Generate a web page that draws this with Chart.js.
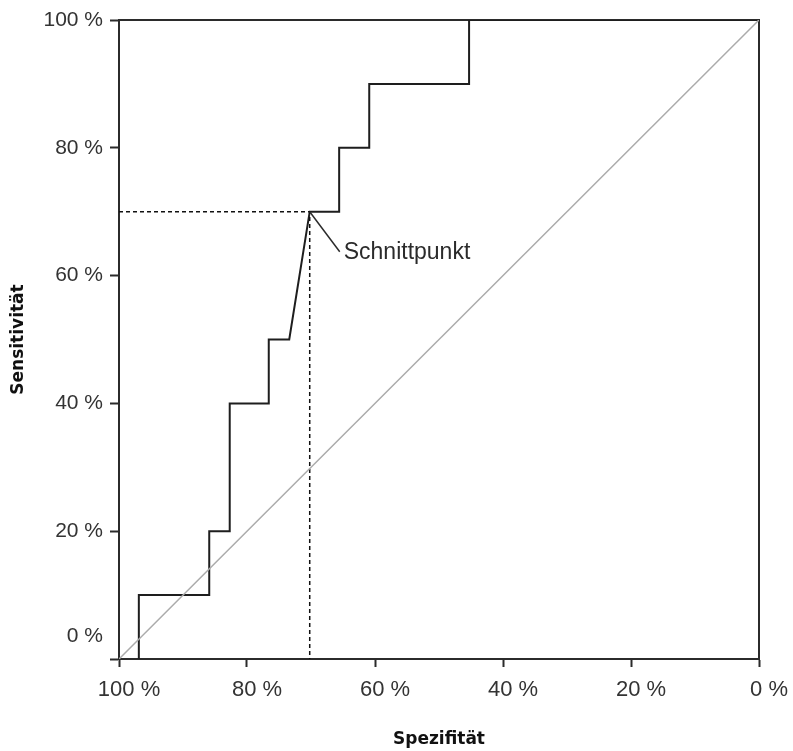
<!DOCTYPE html>
<html>
<head>
<meta charset="utf-8">
<title>ROC-Kurve</title>
<script src="https://cdn.jsdelivr.net/npm/chart.js@4.4.1/dist/chart.umd.min.js"></script>
<style>
  body { margin: 0; background: #fff; }
</style>
</head>
<body>
<canvas id="roc" width="793" height="751"></canvas>
<script>
// ROC curve (percent)
const spezifitaet = [96.9, 96.9, 85.9, 85.9, 82.7, 82.7, 76.6, 76.6, 73.4, 70.2, 65.6, 65.6, 60.9, 60.9, 45.3, 45.3, 0];
const sensitivitaet = [0, 10, 10, 20, 20, 40, 40, 50, 50, 70, 70, 80, 80, 90, 90, 100, 100];
const diagonalX = [100, 0];
const diagonalY = [0, 100];
const schnittX = 70.2;
const schnittY = 70;
const schnittLabel = "Schnittpunkt";
const xTicks = [100, 80, 60, 40, 20, 0];
const yTicks = [0, 20, 40, 60, 80, 100];

const toPoints = (xs, ys) => xs.map((x, i) => ({ x, y: ys[i] }));

// the "0 %" label of the y axis sits a bit above the axis in the original
const Y_ZERO_LABEL_AT = 3.6;
const INK = "#2b2b2b";
const FONT = "'Liberation Sans', Arial, sans-serif";

const frame = {
  id: "frame",
  beforeDatasetsDraw(chart) {
    const { ctx, chartArea: a } = chart;
    ctx.save();
    ctx.strokeStyle = INK;
    ctx.lineWidth = 2;
    ctx.beginPath();
    ctx.moveTo(a.left, a.top);
    ctx.lineTo(a.right, a.top);
    ctx.lineTo(a.right, a.bottom);
    ctx.stroke();
    ctx.restore();
  }
};

const schnittpunkt = {
  id: "schnittpunkt",
  afterDatasetsDraw(chart) {
    const { ctx, scales } = chart;
    const px = scales.x.getPixelForValue(schnittX);
    const py = scales.y.getPixelForValue(schnittY);
    ctx.save();
    ctx.strokeStyle = INK;
    ctx.lineWidth = 1.5;
    ctx.beginPath();
    ctx.moveTo(px, py);
    ctx.lineTo(px + 30, py + 40);
    ctx.stroke();
    ctx.fillStyle = INK;
    ctx.font = "23px " + FONT;
    ctx.textBaseline = "middle";
    ctx.fillText(schnittLabel, px + 34, py + 41);
    ctx.restore();
  }
};

new Chart(document.getElementById("roc"), {
  type: "scatter",
  data: {
    datasets: [
      {
        data: toPoints(diagonalX, diagonalY),
        showLine: true,
        borderColor: "#ababab",
        borderWidth: 1.5,
        pointRadius: 0
      },
      {
        data: [{ x: 100, y: schnittY }, { x: schnittX, y: schnittY }, { x: schnittX, y: 0 }],
        showLine: true,
        borderColor: "#111",
        borderWidth: 1.5,
        borderDash: [4, 3],
        pointRadius: 0
      },
      {
        data: toPoints(spezifitaet, sensitivitaet),
        showLine: true,
        borderColor: "#1e1e1e",
        borderWidth: 2,
        pointRadius: 0
      }
    ]
  },
  options: {
    responsive: false,
    animation: false,
    layout: { padding: { top: 20, right: 34, left: 0, bottom: 0 } },
    plugins: {
      legend: { display: false },
      tooltip: { enabled: false }
    },
    scales: {
      x: {
        type: "linear",
        reverse: true,
        min: 0,
        max: 100,
        afterBuildTicks: s => { s.ticks = xTicks.map(v => ({ value: v })); },
        afterFit: s => { s.height = 92; },
        border: { color: INK, width: 2 },
        grid: { drawOnChartArea: false, tickLength: 8, tickColor: INK, tickWidth: 2 },
        ticks: {
          color: "#333",
          font: { family: FONT, size: 22 },
          padding: 10,
          labelOffset: 10,
          maxRotation: 0,
          callback: v => v + " %"
        },
        title: {
          display: true,
          text: "Spezifität",
          color: "#111",
          font: { family: "'DejaVu Sans', Verdana, sans-serif", size: 17, weight: "bold" },
          padding: { top: 0, bottom: 1 }
        }
      },
      y: {
        type: "linear",
        min: 0,
        max: 100,
        afterBuildTicks: s => {
          s.ticks = [...yTicks, Y_ZERO_LABEL_AT].sort((a, b) => a - b).map(v => ({ value: v }));
        },
        afterFit: s => { s.width = 119; },
        border: { color: INK, width: 2 },
        grid: {
          drawOnChartArea: false,
          tickLength: 9,
          tickWidth: 2,
          tickColor: c => (c.tick && c.tick.value === Y_ZERO_LABEL_AT ? "rgba(0,0,0,0)" : INK)
        },
        ticks: {
          color: "#333",
          font: { family: FONT, size: 21 },
          padding: 7,
          callback: v => (v === 0 ? "" : v === Y_ZERO_LABEL_AT ? "0 %" : v + " %")
        },
        title: {
          display: true,
          text: "Sensitivität",
          color: "#111",
          font: { family: "'DejaVu Sans', Verdana, sans-serif", size: 17, weight: "bold" },
          padding: { top: 8, bottom: 0 }
        }
      }
    }
  },
  plugins: [frame, schnittpunkt]
});
</script>
</body>
</html>
